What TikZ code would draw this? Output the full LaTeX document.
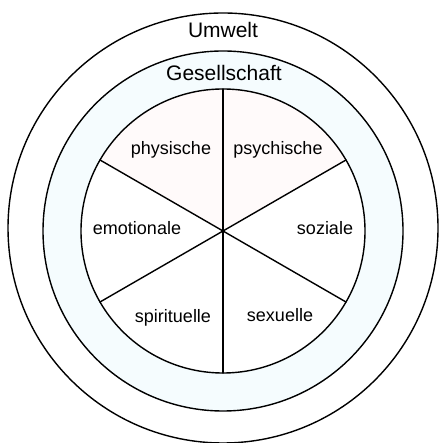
\documentclass[tikz,border=0pt]{standalone}
\usepackage{fontspec}
\setmainfont{Liberation Sans}
\usetikzlibrary{calc}
\begin{document}
\begin{tikzpicture}[x=1pt,y=1pt,line cap=round,
  ring/.style={line width=1.4pt},
  outerlbl/.style={anchor=base,inner sep=0pt,font=\fontsize{21}{25}\selectfont},
  sectorlbl/.style={anchor=base,inner sep=0pt,font=\fontsize{18}{22}\selectfont}]

\useasboundingbox (0,0) rectangle (438,443);

% --- Mittelpunkte ---
\coordinate (mitte) at (223,212);
\coordinate (mitteaussen) at (223,215);

% --- Toenung ---
\fill[cyan!4] (mitte) circle (180);
\fill[white] (mitte) circle (142);
\fill[red!2, shift={(mitte)}] (0,0) -- (30:142) arc (30:150:142) -- cycle;

% --- Kreise ---
\draw[ring] (mitteaussen) circle (215);
\draw[ring] (mitte) circle (180);
\draw[ring] (mitte) circle (142);

% --- Speichen ---
\draw[ring] ($(mitte)+(90:142)$) -- ($(mitte)+(270:142)$);
\draw[ring] ($(mitte)+(30:142)$) -- ($(mitte)+(210:142)$);
\draw[ring] ($(mitte)+(150:142)$) -- ($(mitte)+(330:142)$);

% --- Ringe beschriften ---
\node[outerlbl] (umwelt) at (223,405) {Umwelt};
\node[outerlbl] (gesellschaft) at (224,362) {Gesellschaft};

% --- Sektoren ---
\node[sectorlbl] (physisch) at (171,288) {physische};
\node[sectorlbl] (psychisch) at (278,288) {psychische};
\node[sectorlbl] (emotional) at (137,208) {emotionale};
\node[sectorlbl] (sozial) at (325,208) {soziale};
\node[sectorlbl] (spirituell) at (173,120) {spirituelle};
\node[sectorlbl] (sexuell) at (280,121) {sexuelle};

\end{tikzpicture}
\end{document}
